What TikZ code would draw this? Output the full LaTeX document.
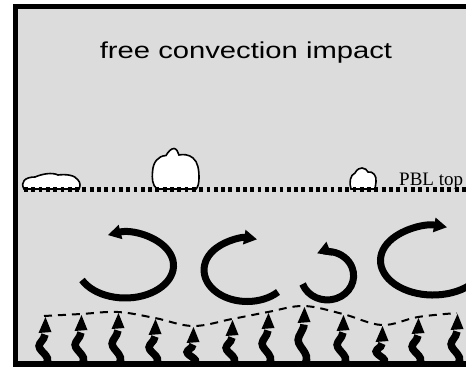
\documentclass[tikz,border=0pt]{standalone}
\usepackage{fontspec}
\newfontfamily\titlefont{Liberation Sans}
\newfontfamily\labelfont{Liberation Serif}
\usetikzlibrary{arrows.meta}
\definecolor{bggray}{RGB}{220,220,220}

\begin{document}
\begin{tikzpicture}[x=1pt,y=1pt,
    cloud/.style={draw=black, fill=white, line width=1.6pt},
    eddy/.style={line width=7pt, -{Triangle[length=13pt,width=14pt]}},
    plume/.style={line width=7.5pt},
    ]
        \useasboundingbox (0,0) rectangle (466,368);
        \clip (0,0) rectangle (466,368);
        \fill[bggray] (15.5,4) rectangle (470,361.5);
        \node[anchor=base, inner sep=0pt, xscale=1.27, font=\titlefont\fontsize{23}{23}\selectfont] (title) at (246,309.5) {free convection impact};
        % clouds on top of the boundary layer
        \draw[cloud] (24,179) .. controls (20,186) and (25,191) .. (35,191) .. controls (42,194) and (52,196) .. (58,193) .. controls (66,194) and (75,193) .. (78,188) .. controls (81,185) and (80,181) .. (79,179) -- cycle;
        \draw[cloud] (157,179) .. controls (152,183) and (152,190) .. (152.5,196) .. controls (153,206) and (158,212) .. (166,212.5) .. controls (168,216) and (171,219.5) .. (174,219.5) .. controls (176.5,219.5) and (178,216) .. (179,213) .. controls (183,214) and (189,213.5) .. (193,210) .. controls (198,206) and (199,198) .. (199,190) .. controls (199,185) and (198,181) .. (196,179) -- cycle;
        \draw[cloud] (351,179) .. controls (349,185) and (350,193) .. (355,195) .. controls (357,199) and (360,200) .. (362,200) .. controls (365,200) and (367,198) .. (368,196) .. controls (373,197) and (377,192) .. (376,186) .. controls (376,183) .. (375,179) -- cycle;
        \draw[line width=5pt, dash pattern=on 3.8pt off 3.5pt] (24,179) -- (470,179);
        \node[anchor=base west, inner sep=0pt, font=\labelfont\fontsize{19}{19}\selectfont] (pbl) at (399,183) {PBL top};
        % eddies
        \draw[eddy] (82,88) arc[start angle=-153.5, end angle=111, x radius=48.3, y radius=32.5];
        \draw[eddy] (278,76) arc[start angle=-44.3, end angle=-283.3, x radius=43.1, y radius=31.5];
        \draw[eddy] (302.6,84) arc[start angle=-160, end angle=113, x radius=26.3, y radius=24.25];
        \draw[eddy] (476,87.7) arc[start angle=-35, end angle=-285.5, x radius=52.5, y radius=34.5];
        % thermals from the surface
        \draw[line width=2pt, dash pattern=on 8pt off 6pt] plot[smooth, tension=0.6] coordinates {(44,52) (81,54) (118,56) (155,50) (193,42) (232,49) (268,56) (304,62) (343,54) (382,43) (418,51) (457,55)};
        \foreach \x/\t in {45/51, 81/53, 118/55, 155/49, 193/41, 232/48, 268/55, 304/61, 343/53, 382/42, 418/50, 457/54} {
            \pgfmathsetmacro\s{\t-17.5}
            \draw[plume] (\x+1,4) .. controls (\x+8,{4+0.3*(\s-4)}) and (\x-10,{4+0.45*(\s-4)}) .. (\x-5,{4+0.7*(\s-4)}) .. controls (\x-2,{4+0.85*(\s-4)}) and (\x,{\s-3}) .. (\x,\s);
            \fill (\x+0.5,\t) -- (\x-6.5,\t-16) -- (\x+6.5,\t-15) -- cycle;
        }
        % frame
        \draw[line width=5.5pt] (470,361.5) -| (15.5,4) -- (470,4);
    \end{tikzpicture}
\end{document}
